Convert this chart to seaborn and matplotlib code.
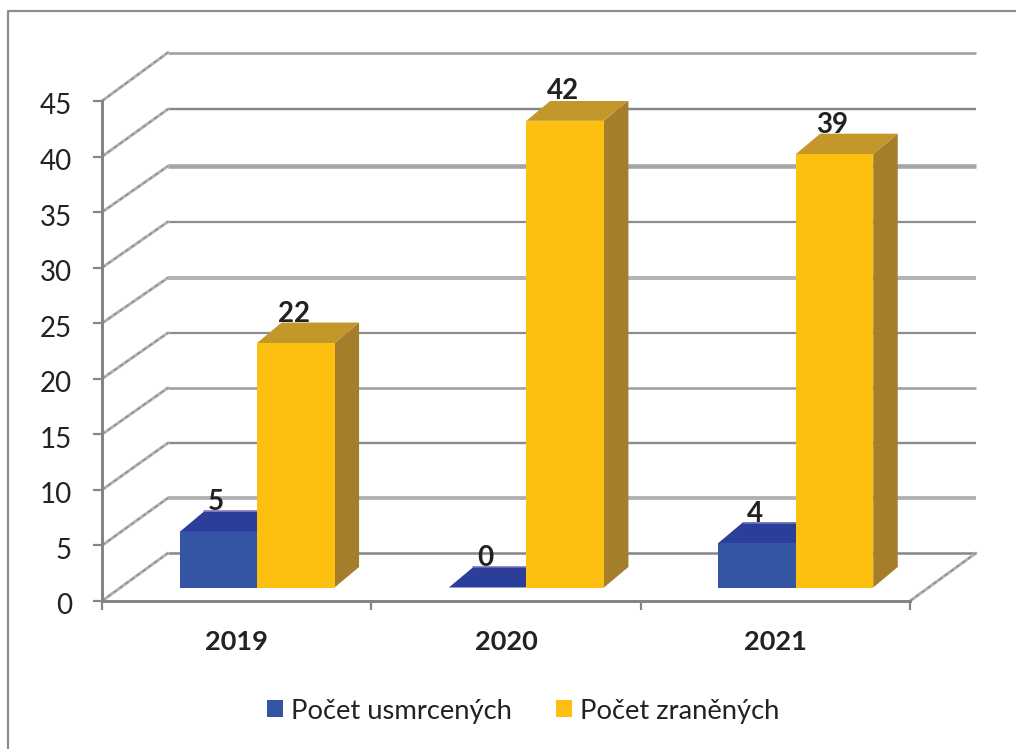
import matplotlib
matplotlib.use("Agg")
import matplotlib.pyplot as plt
import pandas as pd
import seaborn as sns
from matplotlib.lines import Line2D
from matplotlib.patches import Polygon, Patch

years = ["2019", "2020", "2021"]
series_names = ["Počet usmrcených", "Počet zraněných"]
killed = [5, 0, 4]
injured = [22, 42, 39]
y_ticks = [0, 5, 10, 15, 20, 25, 30, 35, 40, 45]

sns.set_theme(style="white")
plt.rcParams["font.family"] = ["Lato", "DejaVu Sans"]

W, H = 1016, 749
fig = plt.figure(figsize=(W / 100, H / 100), dpi=100)
ax = fig.add_axes([102 / W, (H - 601) / H, 808 / W, 500 / H])
PX = 0.72  # points per pixel

df = pd.DataFrame({
    "year": years * 2,
    "value": killed + injured,
    "series": [series_names[0]] * 3 + [series_names[1]] * 3,
})
palette = {series_names[0]: "#3454A4", series_names[1]: "#FDC011"}
sns.barplot(data=df, x="year", y="value", hue="series", palette=palette, saturation=1,
            width=155 / 269.33, gap=0, dodge=True, legend=False, ax=ax, zorder=5, linewidth=0)
ax.set_xlim(-0.5, 2.5)
ax.set_ylim(0, 45)
ax.set_xlabel("")
ax.set_ylabel("")

# pixel -> data conversion of the pseudo-3D offsets
ux = 3 / 808
uy = 45 / 500
wall_dx, wall_dy = 66 * ux, 48.5 * uy
bar_ox, bar_oy = 20.4 * ux, 13.5 * uy
bar_dx, bar_dy = 24.5 * ux, 20.5 * uy

# wall + floor gridlines: colour, width px, vertical nudge px of the back-wall line
grid_style = {
    45: ("#A0A0A0", 2.6, 0), 40: ("#868686", 2.4, 1), 35: ("#A6A6A6", 4.6, 2.5), 30: ("#8C8C8C", 2.2, 2.5),
    25: ("#B4B4B4", 4.0, 3), 20: ("#8C8C8C", 2.2, 2.5), 15: ("#A0A0A0", 2.6, 2), 10: ("#8C8C8C", 2.4, 1.5),
    5: ("#B0B0B0", 3.8, 1), 0: ("#8A8A8A", 2.6, 0.5),
}
x0, x1 = -0.5, 2.5
for v in y_ticks:
    col, w, nudge = grid_style[v]
    by = v + wall_dy - nudge * uy
    ax.plot([x0 + wall_dx, x1 + wall_dx], [by, by], color=col, lw=w * PX,
            solid_capstyle="butt", clip_on=False, zorder=1)
    ax.plot([x0, x0 + wall_dx], [v, by], color="#B4B4B4", lw=3.0 * PX,
            clip_on=False, zorder=1)
    ax.plot([x0, x0 + wall_dx], [v, by], color="#8A8A8A", lw=1.3 * PX,
            ls=(0, (3, 2.5)), clip_on=False, zorder=1.1)
by0 = wall_dy - grid_style[0][2] * uy
ax.plot([x1, x1 + wall_dx], [0, by0], color="#B4B4B4", lw=3.0 * PX, clip_on=False, zorder=1)
ax.plot([x1, x1 + wall_dx], [0, by0], color="#8A8A8A", lw=1.3 * PX, ls=(0, (3, 2.5)),
        clip_on=False, zorder=1.1)

# bars: shift the seaborn rectangles into the depth, then add top and side faces
faces = [("#2A3E9A", "#2A3E9A", "#7274B8"), ("#C3972A", "#A47E2B", None)]
for k, container in enumerate(ax.containers):
    top_col, side_col, edge_col = faces[k]
    for bar in container:
        bar.set_x(bar.get_x() + bar_ox)
        bar.set_y(bar_oy)
        a, b = bar.get_x(), bar.get_x() + bar.get_width()
        top = bar_oy + bar.get_height()
        z = 3 + k
        ax.add_patch(Polygon([(b, bar_oy), (b + bar_dx, bar_oy + bar_dy), (b + bar_dx, top + bar_dy), (b, top)],
                             fc=side_col, ec="none", zorder=z))
        ax.add_patch(Polygon([(a, top), (a + bar_dx, top + bar_dy), (b + bar_dx, top + bar_dy), (b, top)],
                             fc=top_col, ec="none", zorder=z))
        if edge_col:
            ax.plot([a + bar_dx, b + bar_dx], [top + bar_dy, top + bar_dy], color=edge_col, lw=1.6 * PX,
                    clip_on=False, zorder=z)
        bar.set_zorder(z + 0.5)
        ax.text((a + b) / 2 - 2 * ux, top + 29.5 * uy, f"{bar.get_height():.0f}", ha="center",
                va="center", fontsize=20, fontweight="bold", color="#222222", zorder=10)

# axes, ticks
for s in ("top", "right"):
    ax.spines[s].set_visible(False)
for s in ("left", "bottom"):
    ax.spines[s].set_color("#858585")
    ax.spines[s].set_linewidth(3 * PX)
    ax.spines[s].set_zorder(2)
ax.set_yticks(y_ticks)
ax.set_yticklabels([])
ax.tick_params(axis="y", length=9 * PX, width=2.2 * PX, color="#858585", left=True)
for v in y_ticks:
    ax.annotate(str(v), xy=(0, v), xycoords=("axes fraction", "data"), xytext=(-30 * PX, -5.5 * PX),
                textcoords="offset points", ha="right", va="center", fontsize=20, color="#222222",
                annotation_clip=False)
ax.set_xticks([0, 1, 2])
ax.set_xticklabels(years, fontweight="bold", fontsize=19.5, color="#222222")
ax.set_xticks([-0.5, 0.5, 1.5, 2.5], minor=True)
ax.tick_params(axis="x", which="major", length=0, pad=29 * PX, bottom=False)
ax.tick_params(axis="x", which="minor", length=9 * PX, width=2.2 * PX, color="#858585", bottom=True)

# legend
handles = [Patch(fc=palette[n], ec="none") for n in series_names]
fig.legend(handles, series_names, loc="center", bbox_to_anchor=(523.5 / W, (H - 711) / H), ncol=2,
           frameon=False, fontsize=19.7, handlelength=0.58, handleheight=0.58, handletextpad=0.3,
           columnspacing=1.62, labelcolor="#222222", borderpad=0, borderaxespad=0)

# chart-area frame (left and top edges)
fig.add_artist(Line2D([7.5 / W, 7.5 / W, 1], [0, (H - 11) / H, (H - 11) / H], color="#8C8C8C",
                      lw=2.2 * PX, transform=fig.transFigure))

fig.savefig("out.png", dpi=100, facecolor="white")
